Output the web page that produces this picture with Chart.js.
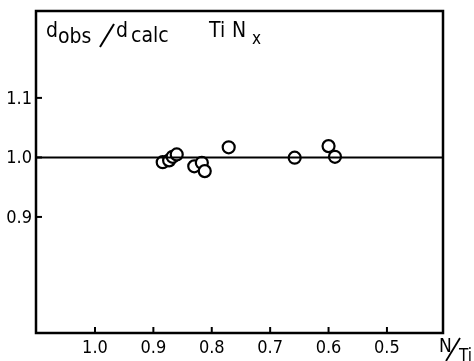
<!DOCTYPE html>
<html>
<head>
<meta charset="utf-8">
<script src="https://cdn.jsdelivr.net/npm/chart.js@4/dist/chart.umd.min.js"></script>
<style>
    body { margin: 0; background: #fff; }
    canvas { display: block; }
</style>
</head>
<body>
<canvas id="ratioChart" width="474" height="361"></canvas>
<script>
// N/Ti ratio (x) and d_obs/d_calc (y) for each sample
const ratioNTi = [0.884, 0.873, 0.867, 0.860, 0.830, 0.817, 0.812, 0.771, 0.658, 0.600, 0.589];
const densityRatio = [0.992, 0.995, 1.001, 1.005, 0.985, 0.991, 0.977, 1.017, 0.9995, 1.019, 1.001];

const xTicks = [1.0, 0.9, 0.8, 0.7, 0.6, 0.5];
const yTicks = [1.1, 1.0, 0.9];
const xRange = [0.404, 1.101];
const yRange = [0.705, 1.246];
const refValue = 1.0;

const FONT = "'DejaVu Sans Condensed', 'DejaVu Sans', sans-serif";

// frame, inward ticks, labels and the in-plot title
const framePlugin = {
    id: 'frame',
    afterDraw(chart) {
        const ctx = chart.ctx;
        const a = chart.chartArea;
        const xs = chart.scales.x;
        const ys = chart.scales.y;
        ctx.save();
        ctx.strokeStyle = '#000';
        ctx.fillStyle = '#000';
        ctx.lineWidth = 2.5;
        ctx.strokeRect(a.left, a.top, a.right - a.left, a.bottom - a.top);

        ctx.lineWidth = 2;
        ctx.font = '18px ' + FONT;
        ctx.textBaseline = 'middle';
        ctx.textAlign = 'right';
        yTicks.forEach(v => {
            const y = ys.getPixelForValue(v);
            ctx.beginPath();
            ctx.moveTo(a.left, y);
            ctx.lineTo(a.left + 6, y);
            ctx.stroke();
            ctx.fillText(v.toFixed(1), a.left - 4, y + 1);
        });
        ctx.textAlign = 'center';
        ctx.textBaseline = 'top';
        xTicks.forEach(v => {
            const x = xs.getPixelForValue(v);
            ctx.beginPath();
            ctx.moveTo(x, a.bottom);
            ctx.lineTo(x, a.bottom - 6);
            ctx.stroke();
            ctx.fillText(v.toFixed(1), x, a.bottom + 6);
        });

        // axis label N/Ti
        ctx.textAlign = 'left';
        ctx.textBaseline = 'alphabetic';
        ctx.font = '19px ' + FONT;
        ctx.fillText('N', 439, 352);
        ctx.font = '17px ' + FONT;
        ctx.fillText('Ti', 459, 361);
        ctx.lineWidth = 1.8;
        ctx.beginPath();
        ctx.moveTo(446, 361);
        ctx.lineTo(460, 338);
        ctx.stroke();

        // title inside the plot
        ctx.font = '21px ' + FONT;
        ctx.fillText('d', 46, 37);
        ctx.fillText('obs', 58, 43);
        ctx.fillText('d', 116, 37);
        ctx.fillText('calc', 131, 42);
        ctx.lineWidth = 2;
        ctx.beginPath();
        ctx.moveTo(100, 47);
        ctx.lineTo(114, 24);
        ctx.stroke();
        ctx.fillText('Ti', 209, 37);
        ctx.fillText('N', 232, 37);
        ctx.font = '17px ' + FONT;
        ctx.fillText('x', 252, 44);
        ctx.restore();
    }
};

new Chart(document.getElementById('ratioChart'), {
    type: 'scatter',
    data: {
        datasets: [
            {
                label: 'reference',
                type: 'line',
                data: [{ x: xRange[1], y: refValue }, { x: xRange[0], y: refValue }],
                borderColor: '#000',
                borderWidth: 2,
                pointRadius: 0,
                fill: false,
            },
            {
                label: 'TiNx',
                data: ratioNTi.map((x, i) => ({ x: x, y: densityRatio[i] })),
                pointRadius: 6,
                pointBorderWidth: 2.2,
                pointBackgroundColor: '#fff',
                pointBorderColor: '#000',
            }
        ]
    },
    options: {
        responsive: false,
        animation: false,
        layout: { padding: { left: 36, top: 11, right: 31, bottom: 28 } },
        plugins: {
            legend: { display: false },
            tooltip: { enabled: false },
        },
        scales: {
            x: { type: 'linear', display: false, reverse: true, min: xRange[0], max: xRange[1] },
            y: { type: 'linear', display: false, min: yRange[0], max: yRange[1] },
        }
    },
    plugins: [framePlugin]
});
</script>
</body>
</html>
